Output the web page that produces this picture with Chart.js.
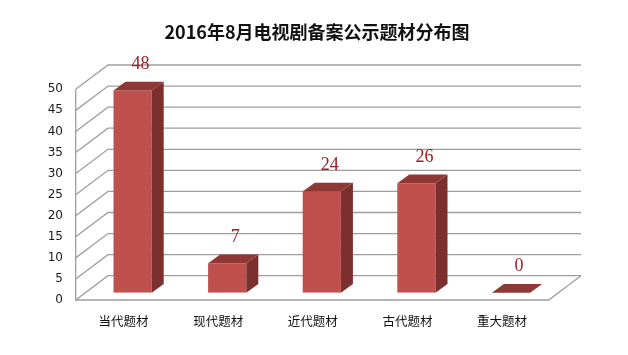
<!DOCTYPE html>
<html>
<head>
<meta charset="utf-8">
<script src="https://cdn.jsdelivr.net/npm/chart.js@4/dist/chart.umd.min.js"></script>
<style>
html,body{margin:0;padding:0;background:#ffffff;}
#wrap{width:628px;height:355px;}
</style>
</head>
<body>
<div id="wrap"><canvas id="c" width="628" height="355"></canvas></div>
<script>
// ---- data ----
const chartTitle = '2016年8月电视剧备案公示题材分布图';
const categories = ['当代题材', '现代题材', '近代题材', '古代题材', '重大题材'];
const values = [48, 7, 24, 26, 0];
const yMin = 0;
const yMax = 50;
const yStep = 5;

// ---- 3D look (offsets in px) ----
const BAR_DX = 12, BAR_DY = 8.7;      // bar depth
const BACK_DX = 22.7, BACK_DY = 17;   // back wall relative to bar-front plane
const FRONT_DX = -9.6, FRONT_DY = 7.3; // front edge relative to bar-front plane
const FRONT_COLOR = '#C0504D';
const SIDE_COLOR = '#7B302E';
const TOP_COLOR = '#8F3936';
const GRID_COLOR = '#9e9e9e';
const LABEL_COLOR = '#9C1F24';

const wall3d = {
  id: 'wall3d',
  beforeDatasetsDraw(chart) {
    const ctx = chart.ctx, a = chart.chartArea, y = chart.scales.y;
    ctx.save();
    ctx.strokeStyle = GRID_COLOR;
    ctx.lineWidth = 1.3;
    const bx0 = a.left + BACK_DX, bx1 = a.right + BACK_DX;
    const fx0 = a.left + FRONT_DX, fx1 = a.right + FRONT_DX;
    y.ticks.forEach(t => {
      const py = y.getPixelForValue(t.value);
      ctx.beginPath();
      ctx.moveTo(fx0, py + FRONT_DY);
      ctx.lineTo(bx0, py - BACK_DY);
      ctx.lineTo(bx1, py - BACK_DY);
      ctx.stroke();
    });
    const p0 = y.getPixelForValue(yMin);
    const pTop = y.getPixelForValue(yMax);
    ctx.beginPath();
    ctx.moveTo(bx1, p0 - BACK_DY);
    ctx.lineTo(fx1, p0 + FRONT_DY);
    ctx.lineTo(fx0, p0 + FRONT_DY);
    ctx.lineTo(fx0, pTop + FRONT_DY);
    ctx.stroke();
    ctx.restore();
  },
  afterDatasetsDraw(chart) {
    const ctx = chart.ctx;
    const meta = chart.getDatasetMeta(0);
    const data = chart.data.datasets[0].data;
    ctx.save();
    meta.data.forEach((bar, i) => {
      const p = bar.getProps(['x', 'y', 'base', 'width'], true);
      const xl = p.x - p.width / 2, xr = p.x + p.width / 2;
      const top = p.y, base = p.base;
      ctx.fillStyle = SIDE_COLOR;
      ctx.beginPath();
      ctx.moveTo(xr, top);
      ctx.lineTo(xr + BAR_DX, top - BAR_DY);
      ctx.lineTo(xr + BAR_DX, base - BAR_DY);
      ctx.lineTo(xr, base);
      ctx.closePath();
      ctx.fill();
      ctx.fillStyle = TOP_COLOR;
      ctx.beginPath();
      ctx.moveTo(xl, top);
      ctx.lineTo(xl + BAR_DX, top - BAR_DY);
      ctx.lineTo(xr + BAR_DX, top - BAR_DY);
      ctx.lineTo(xr, top);
      ctx.closePath();
      ctx.fill();
      ctx.fillStyle = LABEL_COLOR;
      ctx.font = '18px "Liberation Serif", "Times New Roman", serif';
      ctx.textAlign = 'center';
      ctx.textBaseline = 'middle';
      ctx.fillText(String(data[i]), p.x + 8, top - 26);
    });
    ctx.restore();
  }
};

new Chart(document.getElementById('c'), {
  type: 'bar',
  data: {
    labels: categories,
    datasets: [{
      data: values,
      backgroundColor: FRONT_COLOR,
      borderWidth: 0,
      categoryPercentage: 1.0,
      barPercentage: 0.404
    }]
  },
  plugins: [wall3d],
  options: {
    responsive: false,
    animation: false,
    devicePixelRatio: 1,
    layout: { padding: { left: 6, right: 0, top: 0, bottom: 0 } },
    plugins: {
      legend: { display: false },
      tooltip: { enabled: false },
      title: {
        display: true,
        text: chartTitle,
        color: '#111111',
        font: { family: '"Noto Sans CJK SC", sans-serif', size: 18, weight: 'bold', lineHeight: 1.2 },
        padding: { top: 21, bottom: 39.4 }
      }
    },
    scales: {
      x: {
        grid: { display: false, drawTicks: false },
        border: { display: false },
        ticks: {
          color: '#111111',
          font: { family: '"Noto Sans CJK SC", sans-serif', size: 12.5, lineHeight: 1.2 },
          padding: 21.5,
          labelOffset: -9,
          maxRotation: 0,
          autoSkip: false
        },
        afterFit(s) { s.height = 62.3; }
      },
      y: {
        min: yMin,
        max: yMax,
        grid: { display: false, drawTicks: false },
        border: { display: false },
        ticks: {
          stepSize: yStep,
          color: '#1a1a1a',
          font: { family: '"DejaVu Sans", sans-serif', size: 12 },
          padding: 22.3,
          labelOffset: 7.3
        },
        afterFit(s) { s.width = 79.3; }
      },
      yRight: {
        type: 'linear',
        axis: 'y',
        position: 'right',
        min: yMin,
        max: yMax,
        grid: { display: false, drawTicks: false },
        border: { display: false },
        ticks: { display: false },
        afterFit(s) { s.width = 69.7; }
      }
    }
  }
});
</script>
</body>
</html>
